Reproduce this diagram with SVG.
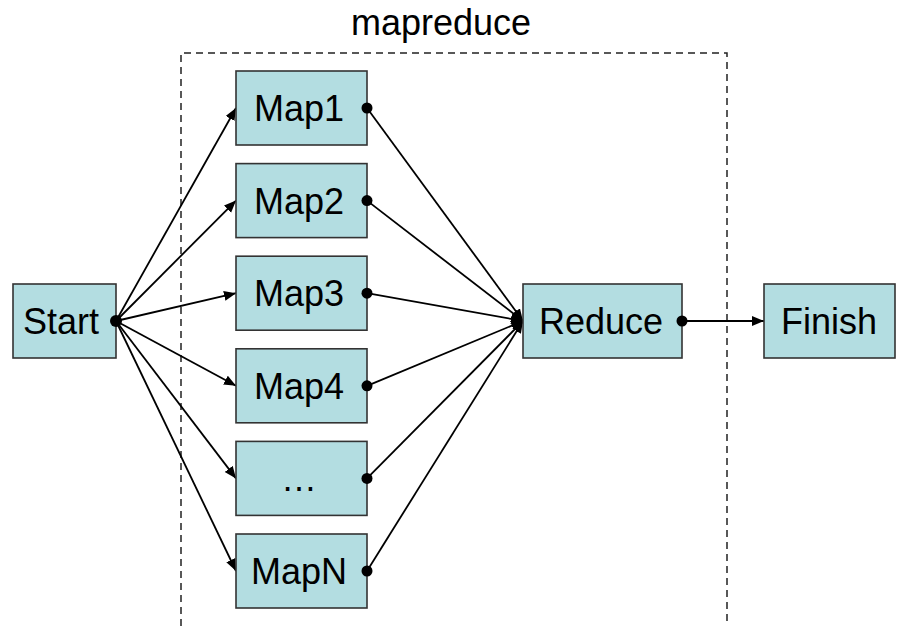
<svg xmlns="http://www.w3.org/2000/svg" width="897" height="626" viewBox="0 0 897 626">
  <defs>
    <style>
      .box { fill: #b3dde1; stroke: #333333; stroke-width: 1.6; }
      .lbl { font-family: "Liberation Sans", Arial, sans-serif; font-size: 36px; fill: #000000; text-anchor: middle; }
      .edge { stroke: #000000; stroke-width: 1.8; fill: none; marker-end: url(#arrow); }
      .dot { fill: #000000; }
      .frame { fill: none; stroke: #222222; stroke-width: 1.5; stroke-dasharray: 7 5; }
    </style>
    <marker id="arrow" markerUnits="userSpaceOnUse" markerWidth="14" markerHeight="12" refX="12" refY="5" orient="auto">
      <path d="M0,0 L12,5 L0,10 z" fill="#000000"/>
    </marker>
  </defs>
  <rect width="897" height="626" fill="#ffffff"/>

  <g id="mapreduce-group">
    <path class="frame" d="M181,626 L181,53 L727,53 L727,626"/>
    <text class="lbl" x="441" y="35">mapreduce</text>
  </g>

  <g id="connectors">
    <line class="edge" x1="116" y1="321" x2="236" y2="108"/>
    <line class="edge" x1="116" y1="321" x2="236" y2="200.6"/>
    <line class="edge" x1="116" y1="321" x2="236" y2="293.2"/>
    <line class="edge" x1="116" y1="321" x2="236" y2="385.8"/>
    <line class="edge" x1="116" y1="321" x2="236" y2="478.4"/>
    <line class="edge" x1="116" y1="321" x2="236" y2="571"/>
    <line class="edge" x1="367" y1="108" x2="523" y2="321"/>
    <line class="edge" x1="367" y1="200.6" x2="523" y2="321"/>
    <line class="edge" x1="367" y1="293.2" x2="523" y2="321"/>
    <line class="edge" x1="367" y1="385.8" x2="523" y2="321"/>
    <line class="edge" x1="367" y1="478.4" x2="523" y2="321"/>
    <line class="edge" x1="367" y1="571" x2="523" y2="321"/>
    <line class="edge" x1="682" y1="321" x2="764" y2="321"/>
  </g>

  <g id="start">
    <rect class="box" x="13" y="284" width="103" height="74"/>
    <text class="lbl" x="61" y="334">Start</text>
    <circle class="dot" cx="116" cy="321" r="6"/>
  </g>

  <g id="map1">
    <rect class="box" x="236" y="71" width="131" height="74"/>
    <text class="lbl" x="299" y="121">Map1</text>
    <circle class="dot" cx="367" cy="108" r="5.5"/>
  </g>
  <g id="map2">
    <rect class="box" x="236" y="163.6" width="131" height="74"/>
    <text class="lbl" x="299" y="213.6">Map2</text>
    <circle class="dot" cx="367" cy="200.6" r="5.5"/>
  </g>
  <g id="map3">
    <rect class="box" x="236" y="256.2" width="131" height="74"/>
    <text class="lbl" x="299" y="306.2">Map3</text>
    <circle class="dot" cx="367" cy="293.2" r="5.5"/>
  </g>
  <g id="map4">
    <rect class="box" x="236" y="348.8" width="131" height="74"/>
    <text class="lbl" x="299" y="398.8">Map4</text>
    <circle class="dot" cx="367" cy="385.8" r="5.5"/>
  </g>
  <g id="map-ellipsis">
    <rect class="box" x="236" y="441.4" width="131" height="74"/>
    <text class="lbl" x="299" y="491.4">…</text>
    <circle class="dot" cx="367" cy="478.4" r="5.5"/>
  </g>
  <g id="mapN">
    <rect class="box" x="236" y="534" width="131" height="74"/>
    <text class="lbl" x="299" y="584">MapN</text>
    <circle class="dot" cx="367" cy="571" r="5.5"/>
  </g>

  <g id="reduce">
    <rect class="box" x="523" y="284" width="159" height="74"/>
    <text class="lbl" x="601" y="334">Reduce</text>
    <circle class="dot" cx="682" cy="321" r="5.5"/>
  </g>

  <g id="finish">
    <rect class="box" x="764" y="284" width="131" height="74"/>
    <text class="lbl" x="829" y="334">Finish</text>
  </g>
</svg>
